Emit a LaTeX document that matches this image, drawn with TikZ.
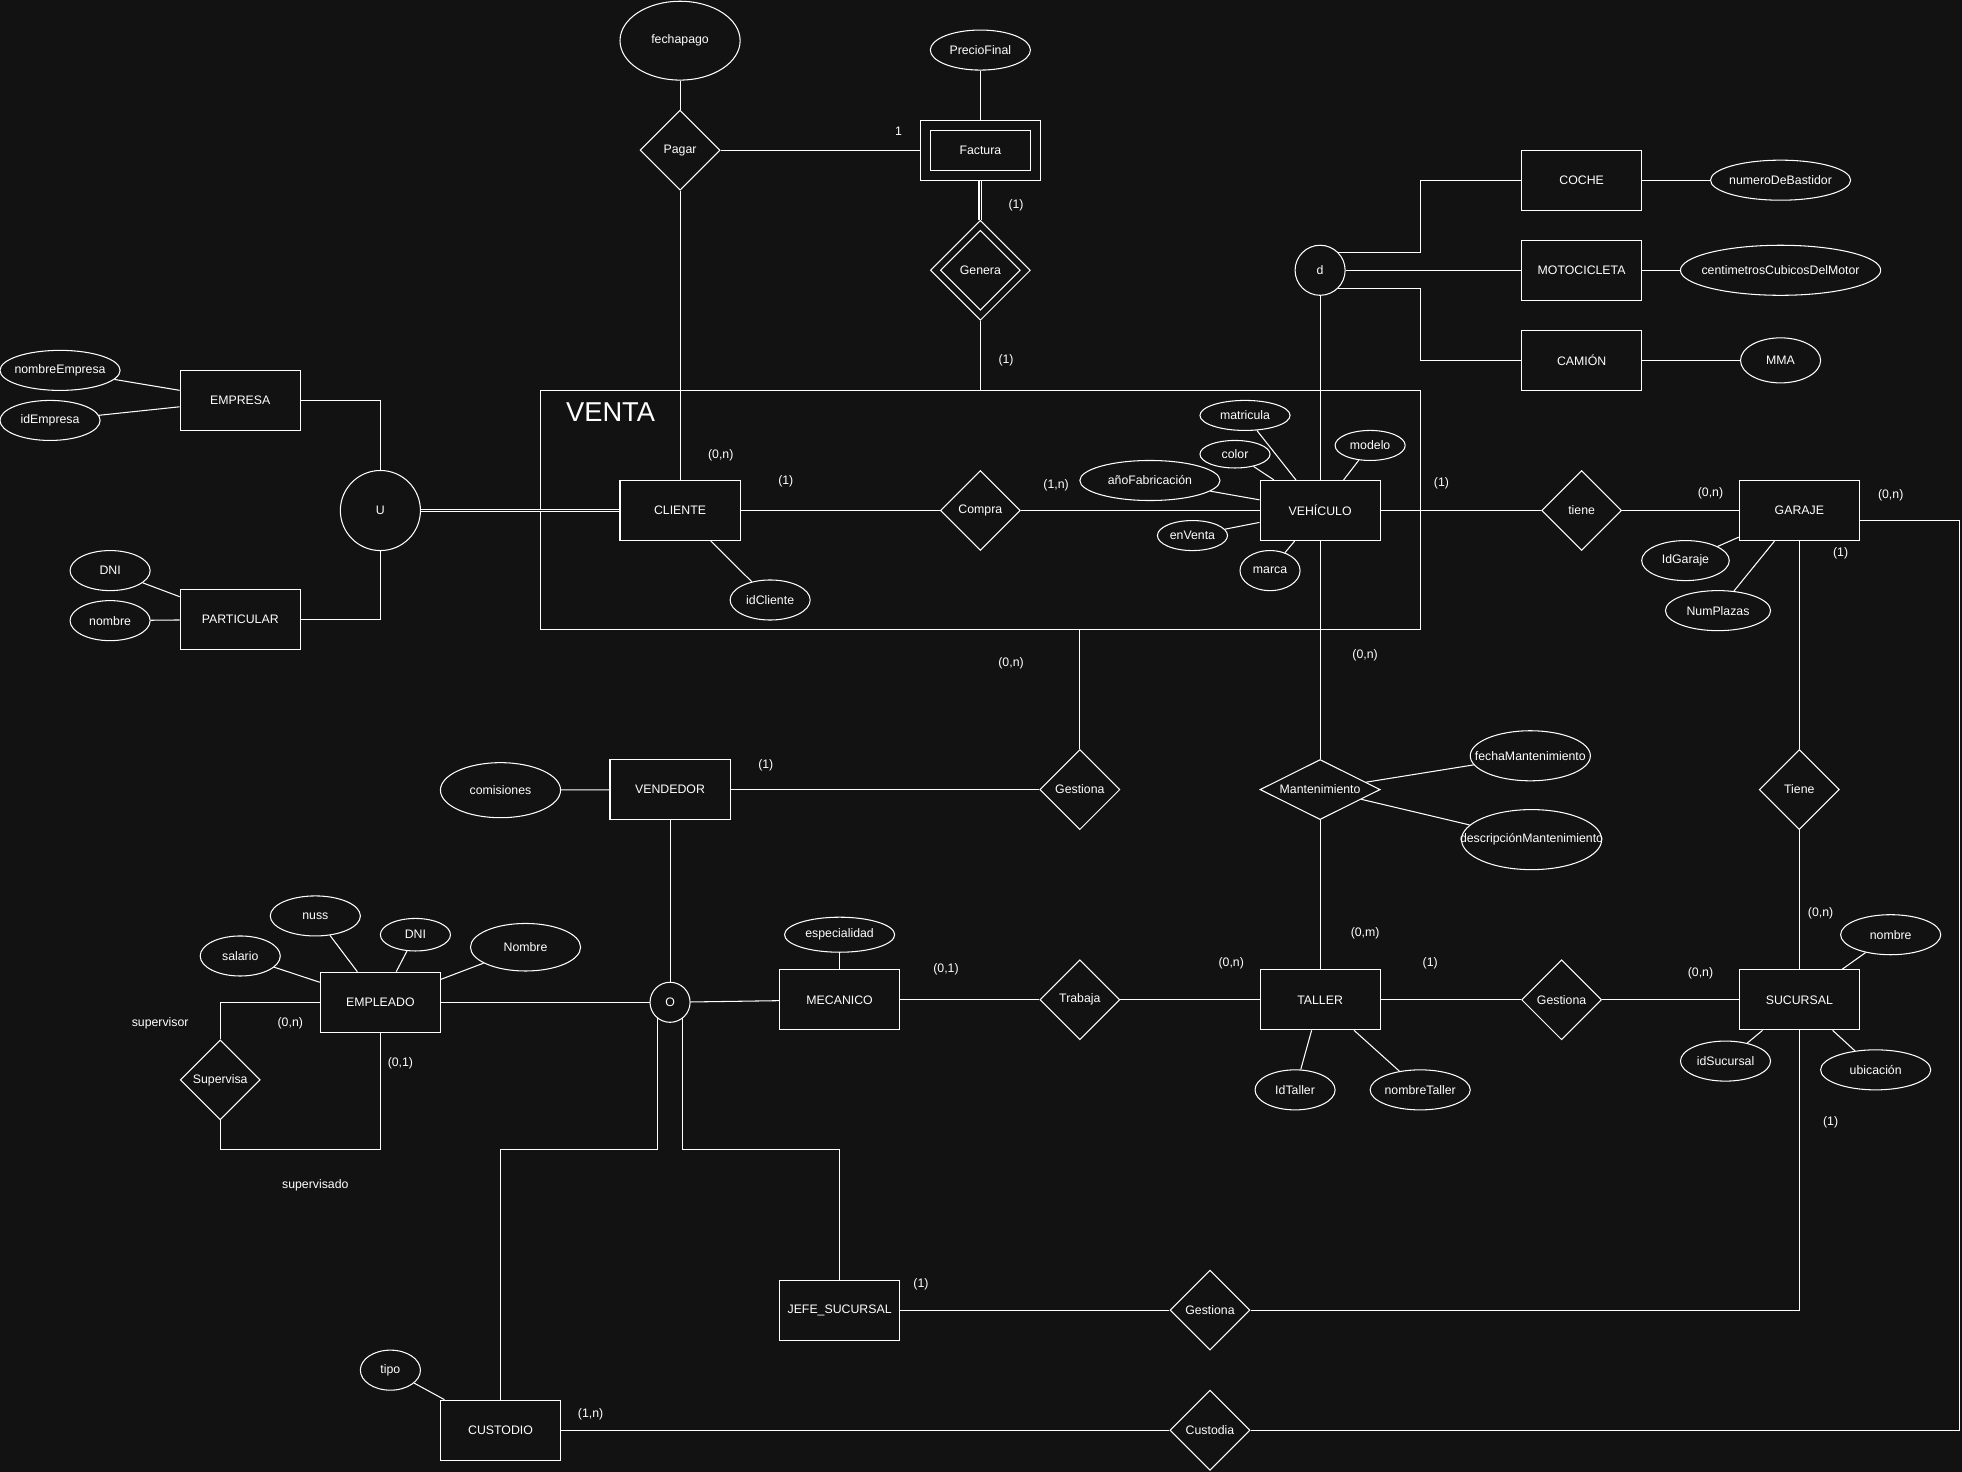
\documentclass[tikz,border=0pt]{standalone}
\usepackage{fontspec}
\setmainfont{Liberation Sans}
\usetikzlibrary{shapes.geometric}
\definecolor{fondo}{RGB}{18,18,18}

\begin{document}
\begin{tikzpicture}[x=0.25mm, y=-0.25mm, color=white, line width=0.6pt]
        \tikzstyle{every node}=[font=\fontsize{7}{8.4}\selectfont];
        \tikzstyle{entidad}=[draw, rectangle, minimum width=24mm, minimum height=12mm];
        \tikzstyle{relacion}=[draw, diamond, inner sep=-10mm, minimum width=16mm, minimum height=16mm];
        \tikzstyle{atributo}=[draw, ellipse, inner sep=-10mm];
        \tikzstyle{circulo}=[draw, circle, inner sep=0pt];
        \tikzstyle{card}=[inner sep=0pt];
        \tikzstyle{doble}=[double=fondo, double distance=0.35mm];

        \useasboundingbox (0,0) rectangle (1568,1176);
        \fill[fondo] (-8,-8) rectangle (1576,1184);

        % agregacion VENTA
        \node[draw, inner sep=0pt, minimum width=175.75mm, minimum height=47.75mm] (venta) at (783.5,407.5) {};
        \node[font=\fontsize{15.5}{18}\selectfont] (ventatxt) at (488,329) {VENTA};

        % entidades
        \node[entidad] (facturaext) at (783.5,120) {};
        \node[entidad, minimum width=20mm, minimum height=8mm] (factura) at (783.5,120) {Factura};
        \node[entidad] (coche) at (1264,144) {COCHE};
        \node[entidad] (moto) at (1264,216) {MOTOCICLETA};
        \node[entidad] (camion) at (1264,288) {CAMIÓN};
        \node[entidad] (empresa) at (192,320) {EMPRESA};
        \node[entidad] (particular) at (192,495) {PARTICULAR};
        \node[entidad] (cliente) at (543.5,408) {CLIENTE};
        \node[entidad] (vehiculo) at (1055,408) {VEHÍCULO};
        \node[entidad] (garaje) at (1438,408) {GARAJE};
        \node[entidad] (vendedor) at (535.5,631) {VENDEDOR};
        \node[entidad] (empleado) at (304,801) {EMPLEADO};
        \node[entidad] (mecanico) at (671,799) {MECANICO};
        \node[entidad] (taller) at (1055,799) {TALLER};
        \node[entidad] (sucursal) at (1438,799) {SUCURSAL};
        \node[entidad] (jefe) at (671,1047) {JEFE\_SUCURSAL};
        \node[entidad] (custodio) at (400,1143) {CUSTODIO};

        % relaciones
        \node[relacion] (pagar) at (543.5,120) {Pagar};
        \node[relacion, minimum width=20mm, minimum height=20mm] (generaext) at (783.5,216) {};
        \node[relacion] (genera) at (783.5,216) {Genera};
        \node[relacion] (compra) at (783.5,408) {Compra};
        \node[relacion] (tiene) at (1264,408) {tiene};
        \node[relacion] (gestionav) at (863,631) {Gestiona};
        \node[relacion, minimum width=24mm, minimum height=12mm] (mant) at (1055,631) {Mantenimiento};
        \node[relacion] (tienes) at (1438,631) {Tiene};
        \node[relacion] (supervisa) at (176,863) {Supervisa};
        \node[relacion] (trabaja) at (863,799) {Trabaja};
        \node[relacion] (gestionat) at (1248,799) {Gestiona};
        \node[relacion] (gestionaj) at (967,1047) {Gestiona};
        \node[relacion] (custodia) at (967,1143) {Custodia};

        % jerarquias
        \node[circulo, minimum size=10mm] (d) at (1055,216) {d};
        \node[circulo, minimum size=16mm] (u) at (304,408) {U};
        \node[circulo, minimum size=8mm] (o) at (535.5,801) {O};

        % atributos
        \node[atributo, minimum width=24mm, minimum height=15.75mm] (fechapago) at (543.5,32.5) {fechapago};
        \node[atributo, minimum width=20mm, minimum height=8mm] (preciofinal) at (783.5,40) {PrecioFinal};
        \node[atributo, minimum width=28mm, minimum height=8mm] (bastidor) at (1423,144) {numeroDeBastidor};
        \node[atributo, minimum width=40mm, minimum height=10mm] (cc) at (1423,216) {centimetrosCubicosDelMotor};
        \node[atributo, minimum width=16mm, minimum height=9mm] (mma) at (1423,288) {MMA};
        \node[atributo, minimum width=24mm, minimum height=8mm] (nombreempresa) at (48,296) {nombreEmpresa};
        \node[atributo, minimum width=20mm, minimum height=8mm] (idempresa) at (40,336) {idEmpresa};
        \node[atributo, minimum width=16mm, minimum height=8mm] (dnip) at (88,456) {DNI};
        \node[atributo, minimum width=16mm, minimum height=8mm] (nombrep) at (88,496) {nombre};
        \node[atributo, minimum width=16mm, minimum height=8mm] (idcliente) at (615.5,479.5) {idCliente};
        \node[atributo, minimum width=18mm, minimum height=6mm] (matricula) at (995,332) {matricula};
        \node[atributo, minimum width=14mm, minimum height=5.5mm] (color) at (987,363) {color};
        \node[atributo, minimum width=14mm, minimum height=6mm] (modelo) at (1095,356) {modelo};
        \node[atributo, minimum width=28mm, minimum height=8mm] (anio) at (919,384) {añoFabricación};
        \node[atributo, minimum width=14mm, minimum height=6mm] (enventa) at (953,428) {enVenta};
        \node[atributo, minimum width=12mm, minimum height=8mm] (marca) at (1015,456) {marca};
        \node[atributo, minimum width=17.5mm, minimum height=8mm] (idgaraje) at (1347,448) {IdGaraje};
        \node[atributo, minimum width=21mm, minimum height=8mm] (numplazas) at (1373,488) {NumPlazas};
        \node[atributo, minimum width=24mm, minimum height=10mm] (fechamant) at (1223,604) {fechaMantenimiento};
        \node[atributo, minimum width=28mm, minimum height=12mm] (descmant) at (1224,671) {descripciónMantenimiento};
        \node[atributo, minimum width=24mm, minimum height=11mm] (comisiones) at (400,631.5) {comisiones};
        \node[atributo, minimum width=22mm, minimum height=7mm] (especialidad) at (671,747) {especialidad};
        \node[atributo, minimum width=16mm, minimum height=8mm] (salario) at (192,764) {salario};
        \node[atributo, minimum width=18mm, minimum height=8mm] (nuss) at (252,732) {nuss};
        \node[atributo, minimum width=14mm, minimum height=6.5mm] (dnie) at (332,747) {DNI};
        \node[atributo, minimum width=22mm, minimum height=9.5mm] (nombree) at (420,757) {Nombre};
        \node[atributo, minimum width=16mm, minimum height=8mm] (idtaller) at (1035,871) {IdTaller};
        \node[atributo, minimum width=20mm, minimum height=8mm] (nombretaller) at (1135,871) {nombreTaller};
        \node[atributo, minimum width=20mm, minimum height=8mm] (nombres) at (1511,747) {nombre};
        \node[atributo, minimum width=18mm, minimum height=8mm] (idsucursal) at (1379,848) {idSucursal};
        \node[atributo, minimum width=22mm, minimum height=8mm] (ubicacion) at (1499,855) {ubicación};
        \node[atributo, minimum width=12mm, minimum height=8mm] (tipo) at (312,1095) {tipo};

        % puntos de codo
        \coordinate (dcodo) at (1135,216);
        \coordinate (borde) at (1566,1143);
        \coordinate (codoc) at (400,919);
        \coordinate (codoj) at (671,919);
        \coordinate (codos) at (304,919);

        % conexiones
        \draw (fechapago) -- (pagar);
        \draw (pagar) -- (cliente);
        \draw (pagar) -- (facturaext);
        \draw (preciofinal) -- (facturaext);
        \draw[doble] (facturaext) -- (generaext);
        \draw (generaext) -- (generaext |- venta.north);
        \draw (nombreempresa) -- (empresa);
        \draw (idempresa) -- (empresa);
        \draw (dnip) -- (particular);
        \draw (nombrep) -- (particular);
        \draw (empresa) -| (u);
        \draw (particular) -| (u);
        \draw[doble] (u) -- (cliente);
        \draw (idcliente) -- (cliente);
        \draw (cliente) -- (compra) -- (vehiculo);
        \draw (matricula) -- (vehiculo);
        \draw (color) -- (vehiculo);
        \draw (modelo) -- (vehiculo);
        \draw (anio) -- (vehiculo);
        \draw (enventa) -- (vehiculo);
        \draw (marca) -- (vehiculo);
        \draw (d) -- (vehiculo);
        \draw (d) -- (moto);
        \draw (d.45) -- (d.45 -| dcodo) |- (coche);
        \draw (d.-45) -- (d.-45 -| dcodo) |- (camion);
        \draw (coche) -- (bastidor);
        \draw (moto) -- (cc);
        \draw (camion) -- (mma);
        \draw (vehiculo) -- (tiene) -- (garaje);
        \draw (idgaraje) -- (garaje);
        \draw (numplazas) -- (garaje);
        \draw (garaje) -- (tienes) -- (sucursal);
        \draw ([yshift=-2mm]garaje.east) -| (borde) -- (custodia);
        \draw (vehiculo) -- (mant) -- (taller);
        \draw (fechamant) -- (mant);
        \draw (descmant) -- (mant);
        \draw (comisiones) -- (vendedor);
        \draw (vendedor) -- (gestionav);
        \draw (gestionav) -- (gestionav |- venta.south);
        \draw (vendedor) -- (o);
        \draw (empleado) -- (o);
        \draw (o) -- (mecanico);
        \draw (o.-128) |- (codoc) -- (custodio);
        \draw (o.-52) |- (codoj) -- (jefe);
        \draw (salario) -- (empleado);
        \draw (nuss) -- (empleado);
        \draw (dnie) -- (empleado);
        \draw (nombree) -- (empleado);
        \draw (empleado) -| (supervisa);
        \draw (supervisa) |- (codos) -- (empleado);
        \draw (especialidad) -- (mecanico);
        \draw (mecanico) -- (trabaja) -- (taller);
        \draw (idtaller) -- (taller);
        \draw (nombretaller) -- (taller);
        \draw (taller) -- (gestionat) -- (sucursal);
        \draw (nombres) -- (sucursal);
        \draw (idsucursal) -- (sucursal);
        \draw (ubicacion) -- (sucursal);
        \draw (sucursal) |- (gestionaj);
        \draw (jefe) -- (gestionaj);
        \draw (tipo) -- (custodio);
        \draw (custodio) -- (custodia);

        % cardinalidades
        \node[card] (cpagar) at (718,105) {1};
        \node[card] (cfactura) at (812,164) {(1)};
        \node[card] (cgenera) at (804,288) {(1)};
        \node[card] (cclientep) at (576,364) {(0,n)};
        \node[card] (cclientec) at (628,385) {(1)};
        \node[card] (cvehiculoc) at (844,388) {(1,n)};
        \node[card] (cvehiculot) at (1152,386) {(1)};
        \node[card] (cgarajet) at (1367,394) {(0,n)};
        \node[card] (cgarajec) at (1511,396) {(0,n)};
        \node[card] (cgarajes) at (1471,442) {(1)};
        \node[card] (cvehiculom) at (1091,524) {(0,n)};
        \node[card] (cventa) at (808,530) {(0,n)};
        \node[card] (cvendedor) at (612,612) {(1)};
        \node[card] (csucursalg) at (1455,730) {(0,n)};
        \node[card] (ctallerm) at (1091,746) {(0,m)};
        \node[card] (rsupervisor) at (128,818) {supervisor};
        \node[card] (csupervisor) at (232,818) {(0,n)};
        \node[card] (cmecanico) at (756,775) {(0,1)};
        \node[card] (ctallert) at (984,770) {(0,n)};
        \node[card] (ctallerg) at (1143,770) {(1)};
        \node[card] (csucursalt) at (1359,778) {(0,n)};
        \node[card] (csupervisado) at (320,850) {(0,1)};
        \node[card] (csucursalj) at (1463,897) {(1)};
        \node[card] (rsupervisado) at (252,947) {supervisado};
        \node[card] (cjefe) at (736,1026) {(1)};
        \node[card] (ccustodio) at (472,1130) {(1,n)};
    \end{tikzpicture}
\end{document}
